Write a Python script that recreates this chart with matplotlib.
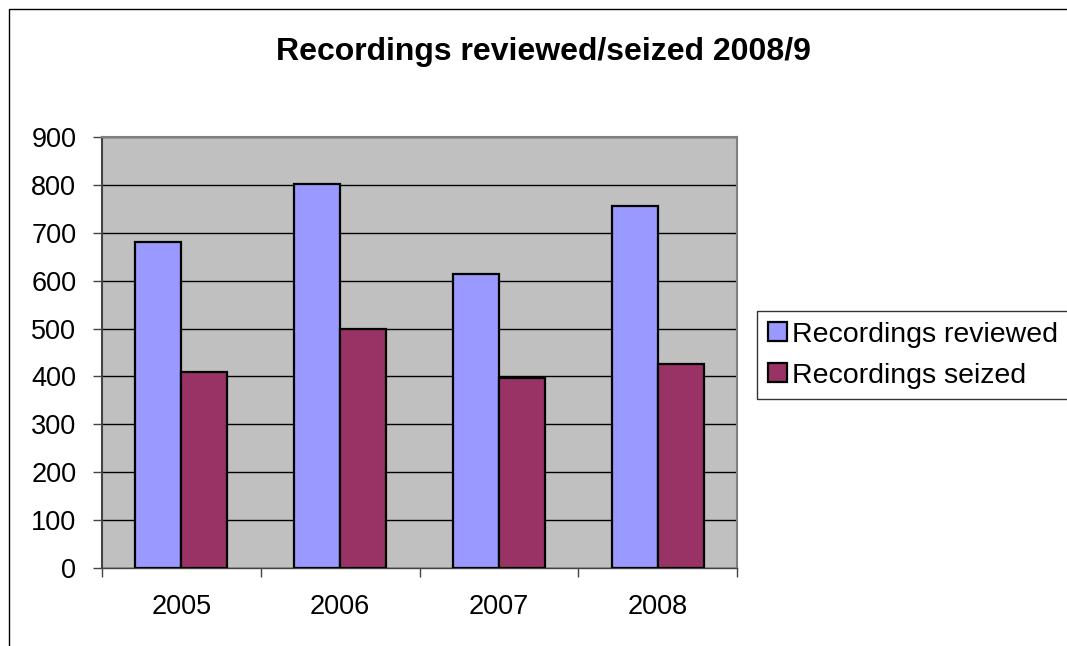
import matplotlib
matplotlib.use("Agg")
import matplotlib.pyplot as plt
import numpy as np
from matplotlib.patches import Rectangle

years = ["2005", "2006", "2007", "2008"]
reviewed = [680, 802, 614, 756]
seized = [409, 499, 397, 426]
series_names = ["Recordings reviewed", "Recordings seized"]
title = "Recordings reviewed/seized 2008/9"

plt.rcParams['font.family'] = ['Liberation Sans', 'DejaVu Sans']

W, H = 1067, 646
fig = plt.figure(figsize=(W/100, H/100), dpi=100)
fig.patch.set_facecolor("white")

# outer chart border
fig.add_artist(Rectangle((9/W, -0.01), 1.1, 1 - 9/H + 0.01, transform=fig.transFigure,
                         fill=False, edgecolor="black", linewidth=1.0))

ax = fig.add_axes([102/W, 1 - 568/H, (737-102)/W, (568-137)/H])
ax.set_facecolor("#C0C0C0")

x = np.arange(len(years))
bw = 0.29
ax.bar(x - bw/2, reviewed, bw, color="#9999FF", edgecolor="black", linewidth=1.6,
       label=series_names[0], zorder=3)
ax.bar(x + bw/2, seized, bw, color="#993366", edgecolor="black", linewidth=1.6,
       label=series_names[1], zorder=3)

ax.set_xlim(-0.5, len(years) - 0.5)
ax.set_ylim(0, 900)
ax.set_yticks(range(0, 901, 100))
ax.tick_params(axis='y', labelsize=19.5, length=6.5, direction='out', width=1, color="#444444", pad=12)
ax.yaxis.grid(True, color="black", linewidth=1.0, zorder=1)
ax.set_axisbelow(True)

ax.set_xticks(x)
ax.set_xticklabels(years, fontsize=19.5)
ax.tick_params(axis='x', length=0, pad=19)
ax.set_xticks(np.arange(-0.5, len(years)), minor=True)
ax.tick_params(axis='x', which='minor', length=6.5, width=1, color="#444444", direction='out')

for side in ["top", "right"]:
    ax.spines[side].set_color("#808080")
    ax.spines[side].set_linewidth(1.5)
ax.spines["left"].set_color("#444444")
ax.spines["left"].set_linewidth(1.5)
ax.spines["bottom"].set_color("#444444")
ax.spines["bottom"].set_linewidth(1.0)

fig.text(543/W, 1 - 52/H, title, ha="center", va="center", fontsize=23, fontweight="bold")

leg = fig.legend(loc="upper left", bbox_to_anchor=(757/W, 1 - 311/H), fontsize=20.5,
                 frameon=True, fancybox=False, edgecolor="black", borderpad=0.38,
                 handlelength=0.66, handleheight=0.66, handletextpad=0.2,
                 labelspacing=0.52, borderaxespad=0)
leg.get_frame().set_linewidth(1.0)
for h in leg.legend_handles:
    h.set_linewidth(1.6)

fig.savefig("out.png", dpi=100)
